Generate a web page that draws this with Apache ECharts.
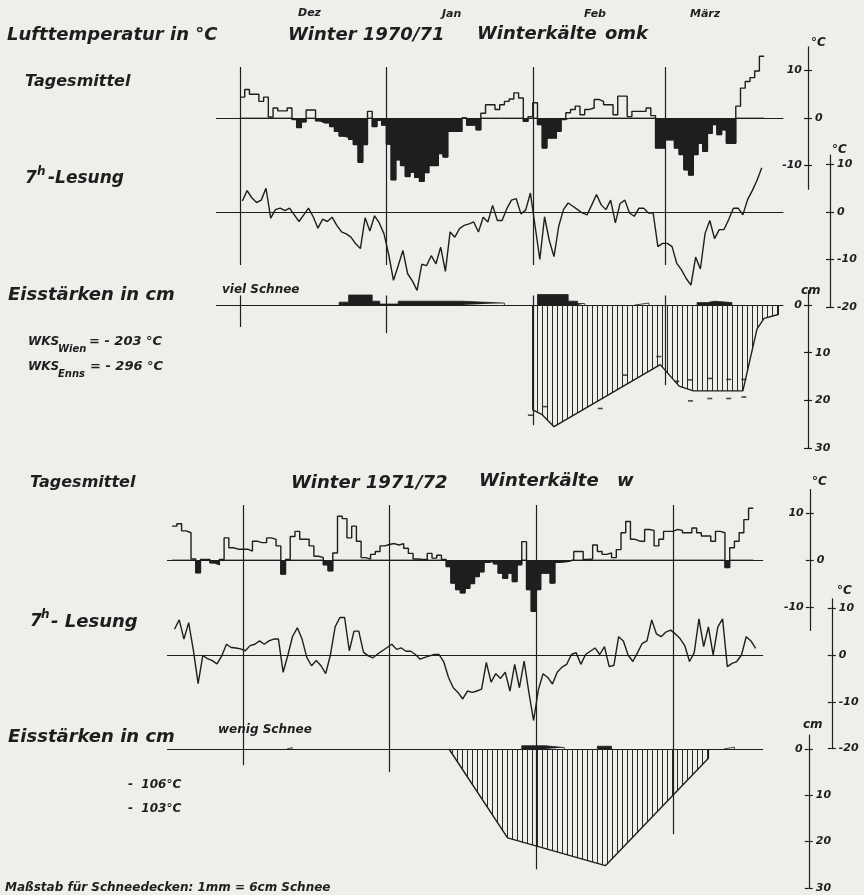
<!DOCTYPE html>
<html><head><meta charset="utf-8">
<script src="https://cdn.jsdelivr.net/npm/echarts@6/dist/echarts.min.js"></script>
<style>html,body{margin:0;padding:0;background:#eeeeeb}#c{width:864px;height:895px}</style>
</head><body><div id="c"></div>
<script>
// ---------------- DATA ----------------
// Winter 1970/71 : day 0 = 1 Dec 1970
const monthStarts71 = [0, 31, 62, 90];
const monthNames71 = ['Dez', 'Jan', 'Feb', 'März'];
const tmStart71 = 0;
const tagesmittel71 = [
  4.4,6.0,5.0,5.0,3.5,4.4,0.2,2.1,1.5,1.5,
  2.1,-0.3,-2.0,-0.8,1.7,1.7,-0.6,-1.0,-1.0,-1.8,
  -2.8,-3.8,-4.0,-4.5,-5.6,-9.3,-5.6,1.4,-1.8,-0.5,
  -1.5,-5.5,-13.0,-8.8,-10.0,-12.3,-11.4,-12.5,-13.3,-11.5,
  -10.0,-10.0,-7.5,-8.2,-2.8,-2.8,-2.8,0.0,-1.5,-1.5,
  -2.5,1.0,2.8,2.8,1.8,2.8,3.5,4.0,5.3,4.2,
  -0.7,0.3,3.2,-1.4,-6.3,-4.2,-4.2,-2.8,-0.3,1.1,
  1.8,2.5,0.7,1.8,2.1,3.9,3.5,2.8,2.8,0.7,
  4.6,4.6,0.3,1.4,1.4,1.4,2.1,0.5,-6.3,-6.3,
  -4.6,-4.6,-6.3,-7.7,-10.9,-12.0,-7.7,-5.3,-7.0,-3.2,
  -1.4,-3.5,-2.5,-5.3,-5.3,2.5,6.3,7.7,8.5,9.9,
  13.0
];
const lesung71 = [
  2.3,4.5,3.0,2.0,2.5,5.0,-1.3,0.5,0.8,0.3,
  0.8,-0.6,-2.0,-0.6,0.8,-1.0,-3.4,-1.5,-2.0,-1.1,
  -2.8,-4.2,-4.6,-5.3,-6.7,-7.7,-1.2,-4.0,-0.8,-2.3,
  -4.6,-9.0,-14.4,-11.3,-8.1,-13.0,-14.5,-16.5,-11.0,-11.3,
  -9.2,-10.9,-7.4,-12.5,-4.2,-5.3,-3.5,-2.8,-2.5,-2.1,
  -4.2,-1.1,-2.1,1.4,-1.8,-1.8,0.7,2.5,2.8,-0.4,
  0.4,4.0,-3.0,-10.0,-1.0,-6.0,-9.4,-3.0,0.5,1.9,
  1.2,0.5,-0.2,-0.6,1.5,3.7,1.5,0.5,2.5,-2.3,
  1.8,2.5,-0.2,-0.9,0.8,0.8,-0.2,-0.2,-7.3,-6.6,
  -6.6,-7.3,-10.8,-12.2,-14.0,-15.4,-9.5,-12.0,-4.5,-1.8,
  -5.6,-3.7,-3.7,-1.6,0.8,0.8,-0.6,2.6,4.5,6.7,
  9.3
];
const ice71 = [[62,0],[62,22],[64,23],[66.5,25.5],[89,12.5],[93,17],[96,18],[106.5,18],[109.5,5],[111,2.8],[114,2],[114,0]];
const iceMarks71 = [[61.5,23.1],[64.7,21.3],[76.3,21.7],[81.6,14.7],[88.7,10.8],[92.5,16],[95.4,15.7],[99.6,15.4],[103.5,15.6],[106.7,15.6],[95.4,20.1],[99.5,19.6],[103.5,19.6],[106.7,19.3]];
const snow71 = [[21,23,6],[23,28,21],[28,29.6,8],[29.6,33.5,2],[33.5,47,8],[47,56,4],[63,69.5,22],[69.5,71.5,8],[71.5,73,3],[83.6,86.6,4],[96.8,99,5],[99,100.5,8],[100.5,104.2,5]];
const iceLineDepth71 = [4.6, 5.9, 25.2, 16.8];

// Winter 1971/72 : day 0 = 1 Dec 1971
const monthStarts72 = [0, 31, 62, 91];
const tmStart72 = -15;
const tagesmittel72 = [
  7.2,7.7,6.2,5.8,0.2,-2.7,0.1,0.1,-0.6,-1.0,0.1,4.7,2.6,2.3,2.3,
  2.3,1.9,4.0,3.7,3.7,4.7,4.4,3.0,-3.0,0.1,
  5.0,6.1,4.4,4.4,3.0,0.8,0.5,-1.0,-2.3,1.5,
  9.3,8.8,4.7,7.2,4.0,0.5,0.2,1.2,1.8,3.0,
  3.3,3.5,3.2,3.5,2.5,1.4,0.2,0.1,0.1,1.4,
  0.4,1.0,0.1,-1.4,-4.9,-6.3,-7.0,-6.0,-5.0,-3.5,
  -2.5,-0.5,-0.3,-0.8,-2.8,-3.9,-2.8,-4.6,-1.0,3.9,
  -6.3,-10.9,-6.3,-2.8,-2.8,-4.9,-0.5,-0.4,-0.3,0.1,
  1.8,1.8,0.1,0.2,3.2,1.8,1.2,1.5,0.5,2.2,
  5.8,8.2,4.4,4.0,4.0,6.5,6.3,3.0,4.4,6.1,
  6.1,6.5,6.3,5.8,5.8,6.8,5.8,5.1,5.1,4.0,
  6.1,5.8,-1.6,2.6,4.0,5.8,8.6,11.0
];
const lesung72 = [
  5.5,7.5,3.4,6.9,1.0,-6.1,-0.1,-0.8,-1.2,-1.9,-0.2,2.3,1.6,1.5,1.3,
  0.9,2.0,2.3,3.0,2.3,3.0,3.4,3.4,-3.7,0.0,
  4.0,5.8,3.4,-0.5,-2.3,-1.2,-2.3,-4.0,0.0,6.0,
  8.0,8.0,0.9,5.1,5.1,0.6,-0.2,-0.6,0.2,0.9,
  1.6,2.3,1.2,1.5,0.8,0.8,0.1,-0.9,-0.5,-0.2,
  0.1,0.1,-1.5,-4.8,-7.0,-8.0,-9.4,-7.7,-8.0,-7.7,
  -7.3,-1.6,-5.8,-4.0,-5.0,-3.7,-7.7,-2.0,-7.0,-1.3,
  -8.0,-14.0,-7.5,-4.0,-4.8,-6.2,-3.7,-2.6,-2.0,0.1,
  0.5,-2.0,0.1,0.8,1.5,0.1,1.8,-2.5,-2.2,3.9,
  3.0,0.0,-1.4,0.5,2.5,3.0,7.5,4.5,3.9,4.9,
  5.3,4.5,3.5,2.0,-1.4,0.5,7.7,1.8,6.0,0.0,
  6.0,7.7,-2.5,-1.8,-1.4,0.0,3.9,3.0,1.4
];
const ice72 = [[43.6,0],[56,19.2],[76.7,25.2],[98.5,2],[98.5,0]];
const iceMarks72 = [];
const snow72 = [[9.3,10.4,3],[59,64,7],[64,68,3],[75,78,6],[101.8,104,4]];
const iceLineDepth72 = [3.5, 5, 26, 18.4];

const tempTicks = [-10, 0, 10];
const lesungTicks = [-20, -10, 0, 10];
const iceTicks = [0, 10, 20, 30];

// ---------------- STYLE / LAYOUT ----------------
const INK = '#1e1e1e';
const BG = '#eeeeeb';
const FONT = '"DejaVu Sans", sans-serif';
const SNOW_K = 10;

const L71 = {xmin:-5, xmax:115, left:216.4, width:566.6,
  tm:{top:46.75,height:142.5}, l7:{top:155,height:152}, ice:{top:290.7,height:157.4},
  frame:{top:67,height:198}, offTm:25, offL7:47, offIce:25, iceLineTop:-2};
const L72 = {xmin:-16, xmax:110, left:167.4, width:595.35,
  tm:{top:489.5,height:141}, l7:{top:598.8,height:149.8}, ice:{top:735.1,height:152.8},
  frame:{top:505,height:244}, offTm:47, offL7:69, offIce:46, iceLineTop:0};

const hatch = document.createElement('canvas');
hatch.width = 5; hatch.height = 8;
(function(){ const c = hatch.getContext('2d'); c.fillStyle = '#2a2a2a'; c.fillRect(2,0,1,8); })();

const option = {backgroundColor: BG, animation: false, grid: [], xAxis: [], yAxis: [], series: [], graphic: []};

function addGrid(L, g) {
  option.grid.push({left: L.left, width: L.width, top: g.top, height: g.height, containLabel: false, outerBoundsMode: 'none'});
  return option.grid.length - 1;
}
function addX(gi, L, showZero) {
  option.xAxis.push({type:'value', gridIndex: gi, min: L.xmin, max: L.xmax,
    axisLine: {show: !!showZero, onZero: !!showZero, lineStyle: {color: INK, width: 1}},
    axisTick: {show:false}, axisLabel: {show:false}, splitLine: {show:false}});
  return option.xAxis.length - 1;
}
function addHiddenY(gi, extra) {
  option.yAxis.push(Object.assign({type:'value', gridIndex: gi, axisLine:{show:false,onZero:false},
    axisTick:{show:false}, axisLabel:{show:false}, splitLine:{show:false}}, extra));
  return option.yAxis.length - 1;
}
function scaleAxes(gi, min, max, inverse, offset, ticks, outLabels, inLabels) {
  const base = {type:'value', gridIndex: gi, min, max, inverse, position:'right', offset, splitLine:{show:false}};
  const lbl = (vals, inside, margin) => vals.length ? {show:true, inside, margin, customValues: vals,
    formatter: v => String(Math.round(v)), color: INK, fontFamily: FONT, fontStyle:'italic', fontWeight:'bold', fontSize: 11} : {show:false};
  option.yAxis.push(Object.assign({}, base, {
    axisLine:{show:true, onZero:false, lineStyle:{color:INK, width:1.2}},
    axisTick:{show:true, inside:false, length:4, customValues: ticks, lineStyle:{color:INK, width:1.2}},
    axisLabel: lbl(outLabels, false, 7)}));
  const main = option.yAxis.length - 1;
  option.yAxis.push(Object.assign({}, base, {
    axisLine:{show:false, onZero:false},
    axisTick:{show:true, inside:true, length:4, customValues: ticks, lineStyle:{color:INK, width:1.2}},
    axisLabel: lbl(inLabels, true, 6)}));
  return main;
}
function stepData(start, vals, f) {
  const d = vals.map((v, i) => [start + i, f ? f(v) : v]);
  d.push([start + vals.length, f ? f(vals[vals.length - 1]) : vals[vals.length - 1]]);
  return d;
}
function runsToData(runs) {
  const d = [];
  runs.forEach(([s, e, v], k) => {
    const prev = runs[k - 1];
    if (!prev || prev[1] !== s) { if (d.length) d.push([s, null]); d.push([s, 0]); }
    d.push([s, v], [e, v]);
    const next = runs[k + 1];
    if (!next || next[0] !== e) d.push([e, 0]);
  });
  return d;
}

function buildWinter(L, D) {
  // month lines frame
  const gf = addGrid(L, L.frame);
  const xf = addX(gf, L, false);
  const yf = addHiddenY(gf, {min:0, max:1});
  option.series.push({type:'line', xAxisIndex: xf, yAxisIndex: yf, data: [], silent: true,
    markLine: {silent:true, symbol:['none','none'], label:{show:false}, emphasis:{disabled:true},
      lineStyle:{color:INK, width:1.2, type:'solid'}, data: D.monthStarts.map(m => ({xAxis: m}))}});

  // Tagesmittel
  const gt = addGrid(L, L.tm);
  const xt = addX(gt, L, true);
  const yt = scaleAxes(gt, -15, 15, false, L.offTm, tempTicks, [0], [-10, 10]);
  option.series.push({type:'line', xAxisIndex: xt, yAxisIndex: yt, step:'end', symbol:'none', silent:true, z:2,
    data: stepData(D.tmStart, D.tm, v => Math.min(v, 0)),
    lineStyle:{width:0.8, color:INK}, areaStyle:{color:INK, opacity:1}});
  option.series.push({type:'line', xAxisIndex: xt, yAxisIndex: yt, step:'end', symbol:'none', silent:true, z:3,
    data: stepData(D.tmStart, D.tm), lineStyle:{width:1.4, color:INK}});

  // 7h-Lesung
  const gl = addGrid(L, L.l7);
  const xl = addX(gl, L, true);
  const yl = scaleAxes(gl, -20, 12, false, L.offL7, lesungTicks, lesungTicks, []);
  option.series.push({type:'line', xAxisIndex: xl, yAxisIndex: yl, symbol:'none', silent:true, z:3,
    data: D.l7.map((v, i) => [D.tmStart + i + 0.5, v]), lineStyle:{width:1.4, color:INK}});

  // Eisstärken
  const gi = addGrid(L, L.ice);
  const xi = addX(gi, L, true);
  const yi = scaleAxes(gi, -3, 30, true, L.offIce, iceTicks, [10, 20, 30], [0]);
  const ys = addHiddenY(gi, {min: -30 * SNOW_K, max: 3 * SNOW_K});
  option.series.push({type:'line', xAxisIndex: xi, yAxisIndex: yi, symbol:'none', silent:true, z:3,
    data: D.ice, lineStyle:{width:1.4, color:INK}, areaStyle:{color:{image: hatch, repeat:'repeat'}, opacity:1},
    markLine: {silent:true, symbol:['none','none'], label:{show:false}, emphasis:{disabled:true},
      lineStyle:{color:INK, width:1.2, type:'solid'},
      data: D.monthStarts.map((m, k) => [{coord:[m, L.iceLineTop]}, {coord:[m, D.iceDepth[k]]}])}});
  if (D.iceMarks.length) option.series.push({type:'scatter', xAxisIndex: xi, yAxisIndex: yi, silent:true, z:4,
    symbol:'rect', symbolSize:[5, 1.6], itemStyle:{color:INK}, data: D.iceMarks});
  option.series.push({type:'line', xAxisIndex: xi, yAxisIndex: ys, symbol:'none', silent:true, z:4, connectNulls:false,
    data: runsToData(D.snow), lineStyle:{width:0.8, color:INK}, areaStyle:{color:INK, opacity:1}});
}

buildWinter(L71, {monthStarts: monthStarts71, tmStart: tmStart71, tm: tagesmittel71, l7: lesung71,
  ice: ice71, iceMarks: iceMarks71, snow: snow71, iceDepth: iceLineDepth71});
buildWinter(L72, {monthStarts: monthStarts72, tmStart: tmStart72, tm: tagesmittel72, l7: lesung72,
  ice: ice72, iceMarks: iceMarks72, snow: snow72, iceDepth: iceLineDepth72});

// ---------------- TEXT ----------------
const texts = [
  [monthNames71[0], 298, 13, 11], [monthNames71[1], 442, 14, 11], [monthNames71[2], 584, 14, 11], [monthNames71[3], 690, 14, 11],
  ['Lufttemperatur in °C', 7, 35, 18], ['Winter 1970/71', 288, 35, 18], ['Winterkälte', 477, 34, 18], ['omk', 605, 34, 18],
  ['Tagesmittel', 25, 82, 16],
  ['7', 25, 179, 17], ['h', 37, 172, 12], ['-Lesung', 48, 179, 17],
  ['Eisstärken in cm', 8, 295, 18], ['viel Schnee', 222, 290, 12],
  ['WKS', 28, 342, 12], ['Wien', 58, 349, 10], ['= - 203 °C', 89, 342, 13],
  ['WKS', 28, 367, 12], ['Enns', 58, 374, 10], ['= - 296 °C', 90, 367, 13],
  ['°C', 811, 43, 12], ['°C', 832, 150, 12], ['cm', 801, 291, 12],
  ['Tagesmittel', 30, 483, 16], ['Winter 1971/72', 291, 483, 18], ['Winterkälte', 479, 481, 18], ['w', 617, 481, 18],
  ['7', 30, 622, 17], ['h', 41, 615, 12], ['- Lesung', 51, 622, 18],
  ['Eisstärken in cm', 8, 737, 18], ['wenig Schnee', 218, 730, 12],
  ['-  106°C', 128, 785, 12], ['-  103°C', 128, 809, 12],
  ['Maßstab für Schneedecken: 1mm = 6cm Schnee', 5, 888, 12],
  ['°C', 812, 482, 12], ['°C', 837, 591, 12], ['cm', 803, 725, 12]
];
option.graphic = texts.map(([t, x, y, s]) => ({type:'text', x, y, silent:true, z:10,
  style:{text: t, fill: INK, fontFamily: FONT, fontSize: s, fontStyle:'italic', fontWeight:'bold',
    textAlign:'left', textVerticalAlign:'middle', align:'left', verticalAlign:'middle'}}));

const chart = echarts.init(document.getElementById('c'), null, {renderer:'canvas'});
chart.setOption(option);
</script>
</body></html>
